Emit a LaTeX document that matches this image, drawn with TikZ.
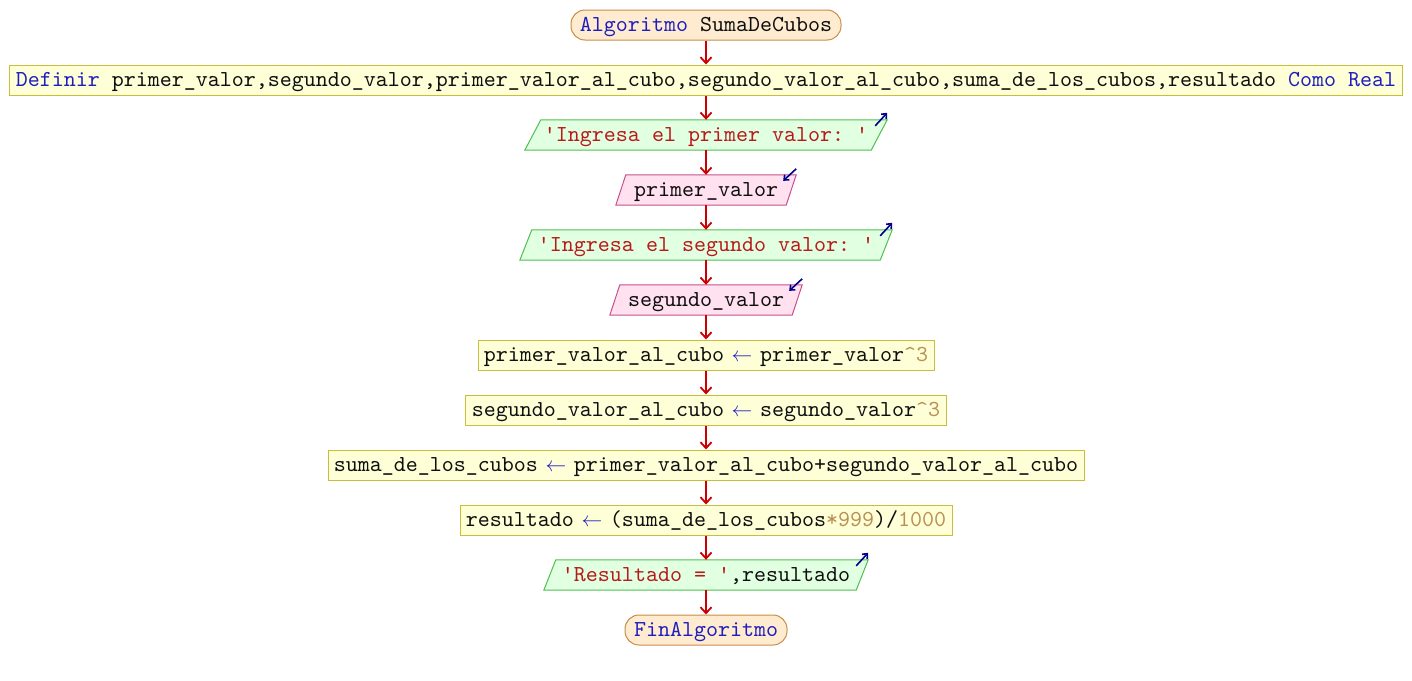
\documentclass[tikz,border=0pt]{standalone}
\usepackage{fontspec}
\setmonofont{lmmono10-regular.otf}
\usetikzlibrary{arrows.meta,calc}
\pgfdeclarelayer{background}
\pgfsetlayers{background,main}
\definecolor{kwblue}{RGB}{30,30,190}
\definecolor{strred}{RGB}{185,25,25}
\definecolor{numtan}{RGB}{185,145,85}
\definecolor{txt}{RGB}{15,15,15}
\definecolor{flowred}{RGB}{204,0,0}
\definecolor{icblue}{RGB}{0,0,140}
\definecolor{termfill}{RGB}{255,236,208}
\definecolor{termdraw}{RGB}{200,140,70}
\definecolor{procfill}{RGB}{255,255,215}
\definecolor{procdraw}{RGB}{200,190,60}
\definecolor{outfill}{RGB}{225,255,225}
\definecolor{outdraw}{RGB}{80,190,80}
\definecolor{infill}{RGB}{255,225,240}
\definecolor{indraw}{RGB}{200,80,140}
\newcommand\kw[1]{\textcolor{kwblue}{#1}}
\newcommand\strg[1]{\textcolor{strred}{#1}}
\newcommand\nmb[1]{\textcolor{numtan}{#1}}
\newcommand\asg{\makebox[36pt]{\textcolor{kwblue}{\fontsize{21}{24}\selectfont$\leftarrow$}}}
\newcommand\parashape[3]{%
  \begin{pgfonlayer}{background}
  \path[#3] ($(#1.south west)+(-#2/2,0)$) -- ($(#1.north west)+(#2/2,0)$)
     -- ($(#1.north east)+(#2/2,0)$) -- ($(#1.south east)+(-#2/2,0)$) -- cycle;
  \end{pgfonlayer}}
\tikzset{
  base/.style={font=\ttfamily\fontsize{22.86}{27}\selectfont, text=txt, inner sep=0pt,
     minimum height=30pt, text height=17pt, text depth=3.5pt},
  term/.style={base, draw=termdraw, fill=termfill, line width=1pt, rounded corners=14pt},
  proc/.style={base, draw=procdraw, fill=procfill, line width=1pt},
  para/.style={base},
  outshape/.style={draw=outdraw, fill=outfill, line width=1pt},
  inshape/.style={draw=indraw, fill=infill, line width=1pt},
  flow/.style={draw=flowred, line width=1.8pt, -{Straight Barb[length=6pt,width=11pt]}},
  icon/.style={draw=icblue, line width=1.6pt, -{Straight Barb[length=4pt,width=7pt]}}
}
\begin{document}
\begin{tikzpicture}[x=1pt,y=-1pt]
\useasboundingbox (0,0) rectangle (1412,680);
\node[term, minimum width=270] (start) at (706,25) {\kw{Algoritmo} SumaDeCubos};
\node[proc, minimum width=1393] (def) at (706,80) {\kw{Definir} primer\_valor,segundo\_valor,primer\_valor\_al\_cubo,segundo\_valor\_al\_cubo,suma\_de\_los\_cubos,resultado \kw{Como Real}};
\node[para, minimum width=346] (o1) at (706,135) {\strg{'Ingresa el primer valor: '}};
\node[para, minimum width=170] (i1) at (706,190) {primer\_valor};
\node[para, minimum width=360] (o2) at (706,245) {\strg{'Ingresa el segundo valor: '}};
\node[para, minimum width=182] (i2) at (706,300) {segundo\_valor};
\node[proc, minimum width=456] (a1) at (706,355) {primer\_valor\_al\_cubo\asg primer\_valor\nmb{\textasciicircum3}};
\node[proc, minimum width=481] (a2) at (706,410) {segundo\_valor\_al\_cubo\asg segundo\_valor\nmb{\textasciicircum3}};
\node[proc, minimum width=756] (a3) at (706,465) {suma\_de\_los\_cubos\asg primer\_valor\_al\_cubo+segundo\_valor\_al\_cubo};
\node[proc, minimum width=492] (a4) at (706,520) {resultado\asg (suma\_de\_los\_cubos\nmb{*999})/\nmb{1000}};
\node[para, minimum width=312] (o3) at (706,575) {\strg{'Resultado = '},resultado};
\node[term, minimum width=162] (end) at (706,630) {\kw{FinAlgoritmo}};
\parashape{o1}{16}{outshape}
\parashape{i1}{10}{inshape}
\parashape{o2}{12}{outshape}
\parashape{i2}{10}{inshape}
\parashape{o3}{12}{outshape}
% output / input icons
\draw[icon] ($(o1.north east)+(8-12,6)$) -- ($(o1.north east)+(8,-7)$);
\draw[icon] ($(o2.north east)+(6-12,6)$) -- ($(o2.north east)+(6,-7)$);
\draw[icon] ($(o3.north east)+(6-12,6)$) -- ($(o3.north east)+(6,-7)$);
\draw[icon] ($(i1.north east)+(5,-6)$) -- ($(i1.north east)+(5-13,6)$);
\draw[icon] ($(i2.north east)+(5,-6)$) -- ($(i2.north east)+(5-13,6)$);
% flow
\draw[flow] (start) -- (def);
\draw[flow] (def) -- (o1);
\draw[flow] (o1) -- (i1);
\draw[flow] (i1) -- (o2);
\draw[flow] (o2) -- (i2);
\draw[flow] (i2) -- (a1);
\draw[flow] (a1) -- (a2);
\draw[flow] (a2) -- (a3);
\draw[flow] (a3) -- (a4);
\draw[flow] (a4) -- (o3);
\draw[flow] (o3) -- (end);
\end{tikzpicture}
\end{document}
